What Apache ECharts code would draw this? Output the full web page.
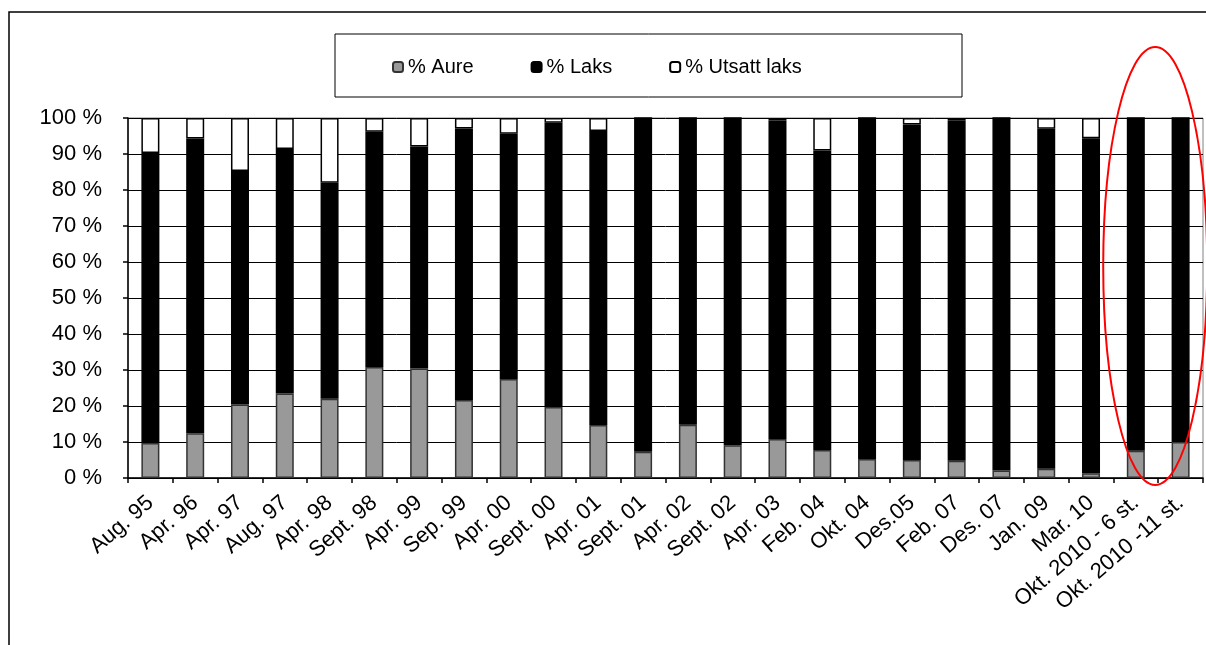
<!DOCTYPE html>
<html>
<head>
<meta charset="utf-8">
<script src="https://cdn.jsdelivr.net/npm/echarts@6/dist/echarts.min.js"></script>
<style>
html,body{margin:0;padding:0;background:#fff;}
#chart{width:1206px;height:645px;}
</style>
</head>
<body>
<div id="chart"></div>
<script>
var categories = ['Aug. 95','Apr. 96','Apr. 97','Aug. 97','Apr. 98','Sept. 98','Apr. 99','Sep. 99','Apr. 00','Sept. 00','Apr. 01','Sept. 01','Apr. 02','Sept. 02','Apr. 03','Feb. 04','Okt. 04','Des.05','Feb. 07','Des. 07','Jan. 09','Mar. 10','Okt. 2010 - 6 st.','Okt. 2010 -11 st.'];
var aure   = [9.7,12.4,20.4,23.5,22.0,30.8,30.4,21.7,27.5,19.7,14.7,7.3,14.8,9.1,10.8,7.8,5.3,5.0,4.8,2.1,2.6,1.3,7.6,10.0];
var laks   = [80.6,81.9,64.9,67.9,60.0,65.4,61.7,75.4,68.1,79.0,81.7,92.7,85.2,90.9,88.5,83.2,94.7,93.2,94.6,97.9,94.4,93.1,92.4,90.0];
var utsatt = [9.7,5.7,14.7,8.6,18.0,3.8,7.9,2.9,4.4,1.3,3.6,0,0,0,0.7,9.0,0,1.8,0.6,0,3.0,5.6,0,0];
var seriesNames = ['% Aure','% Laks','% Utsatt laks'];

var FONT = 'Liberation Sans, Arial, sans-serif';
var chart = echarts.init(document.getElementById('chart'), null, {renderer:'canvas'});

var option = {
  animation: false,
  backgroundColor: '#fff',
  grid: {left: 128, right: 3, top: 118, bottom: 167, show: true, borderColor: '#808080', borderWidth: 1, containLabel: false},
  legend: {
    left: 387, top: 52,
    itemWidth: 10, itemHeight: 10, itemGap: 57,
    textStyle: {fontSize: 20, fontFamily: FONT, color: '#000'},
    data: seriesNames
  },
  xAxis: {
    type: 'category',
    data: categories,
    boundaryGap: true,
    axisLine: {lineStyle: {color: '#000', width: 1.5}},
    axisTick: {show: true, length: 5, lineStyle: {color: '#000', width: 1.5}},
    axisLabel: {interval: 0, rotate: 41, margin: 22, fontSize: 22, fontFamily: FONT, color: '#000'},
    splitLine: {show: false}
  },
  yAxis: {
    type: 'value',
    min: 0, max: 100, interval: 10,
    axisLine: {show: true, lineStyle: {color: '#000', width: 1.5}},
    axisTick: {show: true, length: 5, lineStyle: {color: '#000', width: 1.5}},
    axisLabel: {formatter: '{value} %', margin: 26, fontSize: 22, fontFamily: FONT, color: '#000'},
    splitLine: {show: true, lineStyle: {color: '#000', width: 1}}
  },
  series: [
    {name: seriesNames[0], type: 'bar', stack: 'a', barWidth: 18, data: aure,
     itemStyle: {color: '#999999', borderColor: '#333333', borderWidth: 1.5}},
    {name: seriesNames[1], type: 'bar', stack: 'a', barWidth: 18, data: laks,
     itemStyle: {color: '#000000', borderColor: '#000000', borderWidth: 1.5}},
    {name: seriesNames[2], type: 'bar', stack: 'a', barWidth: 18, data: utsatt,
     itemStyle: {color: '#ffffff', borderColor: '#000000', borderWidth: 1.5}}
  ]
};
chart.setOption(option);

// annotation shapes: outer frame, legend box, red ellipse around the last two categories
var pA = chart.convertToPixel({xAxisIndex: 0}, categories[categories.length - 2]);
var pB = chart.convertToPixel({xAxisIndex: 0}, categories[categories.length - 1]);
var yTop = chart.convertToPixel({yAxisIndex: 0}, 100);
var yBot = chart.convertToPixel({yAxisIndex: 0}, 0);
var cx = (pA + pB) / 2 - 3;
var topE = yTop - 71, botE = yBot + 7;

chart.setOption({
  graphic: [
    {type: 'rect', z: 100, silent: true, shape: {x: 9, y: 12, width: 1400, height: 1000},
     style: {fill: null, stroke: '#000', lineWidth: 1.5}},
    {type: 'rect', z: 100, silent: true, shape: {x: 335, y: 34, width: 627, height: 63},
     style: {fill: null, stroke: '#000', lineWidth: 1}},
    {type: 'ellipse', z: 100, silent: true,
     shape: {cx: cx, cy: (topE + botE) / 2, rx: 52, ry: (botE - topE) / 2},
     style: {fill: null, stroke: '#ff0000', lineWidth: 2}}
  ]
});
</script>
</body>
</html>
